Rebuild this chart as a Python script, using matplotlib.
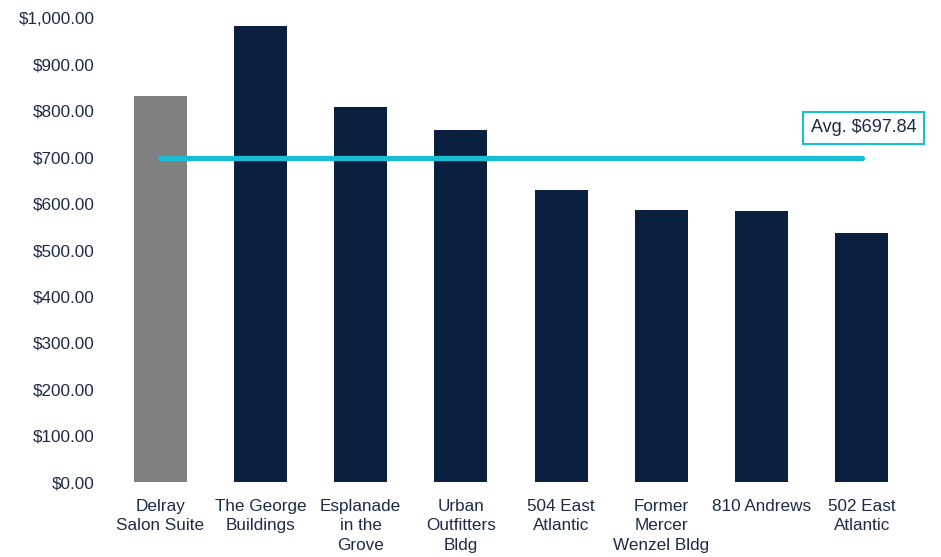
import matplotlib.pyplot as plt
import numpy as np

plt.rcParams["font.family"] = ["Liberation Sans", "DejaVu Sans"]

NAVY = "#0b1f3e"
GREY = "#808080"
CYAN = "#19bdd4"
TEXT = "#1c2b45"

properties = [
    "Delray\nSalon Suite",
    "The George\nBuildings",
    "Esplanade\nin the\nGrove",
    "Urban\nOutfitters\nBldg",
    "504 East\nAtlantic",
    "Former\nMercer\nWenzel Bldg",
    "810 Andrews",
    "502 East\nAtlantic",
]
rents = [832, 983, 808, 759, 629, 586, 584, 537]
average = 697.84
y_ticks = np.arange(0, 1001, 100)


def main():
    fig = plt.figure(figsize=(9.41, 5.57), dpi=100)
    ax = fig.add_axes([110 / 941, (557 - 482) / 557, 802 / 941, 464 / 557])

    x = np.arange(len(properties))
    colors = [GREY] + [NAVY] * (len(properties) - 1)
    ax.bar(x, rents, width=0.53, color=colors, zorder=2)

    ax.plot([x[0], x[-1]], [average, average], color=CYAN, lw=3.8,
            solid_capstyle="round", zorder=3)
    ax.text(x[-1] + 0.02, 763, f"Avg. ${average:,.2f}", ha="center", va="center",
            fontsize=13, color=TEXT, zorder=4,
            bbox=dict(boxstyle="square,pad=0.42", fc="white", ec=CYAN, lw=1.5))

    ax.set_xlim(-0.5, len(properties) - 0.5)
    ax.set_ylim(0, 1000)
    ax.set_yticks(y_ticks)
    ax.set_yticklabels([f"${v:,.2f}" for v in y_ticks])
    ax.set_xticks(x)
    ax.set_xticklabels(properties, va="top", linespacing=1.4)

    for side in ax.spines.values():
        side.set_visible(False)
    ax.tick_params(length=0, labelsize=12.3, colors=TEXT)
    ax.tick_params(axis="y", pad=11)
    ax.tick_params(axis="x", pad=12)

    fig.savefig("out.png", dpi=100)


if __name__ == "__main__":
    main()
